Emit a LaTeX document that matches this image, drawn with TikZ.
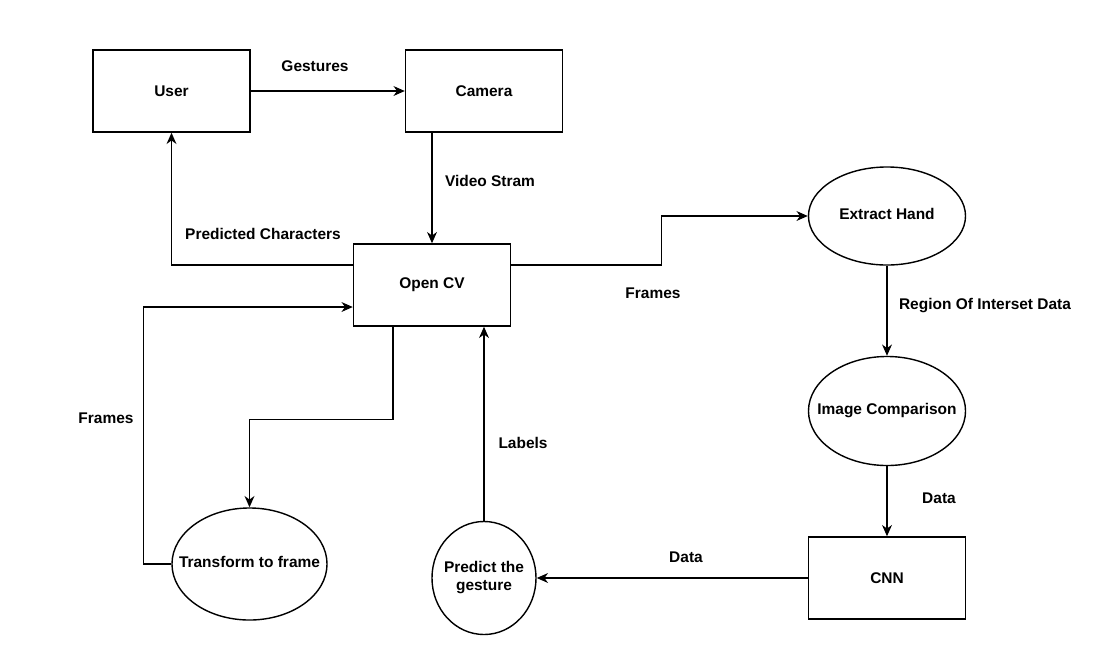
\documentclass[tikz,border=0pt]{standalone}
\usepackage{fontspec}
\setmainfont{Liberation Sans}
\usepackage{tikz}
\usetikzlibrary{
  arrows.meta,
  positioning,
  calc,
  shapes.geometric,
}

% text that does not widen the ellipse around it
\newcommand{\bubtext}[1]{\makebox[0pt]{\begin{tabular}{@{}c@{}}#1\end{tabular}}}

\begin{document}
\begin{tikzpicture}[
  x=0.025cm, y=-0.025cm,
  font=\fontsize{11}{13}\selectfont\bfseries,
  every node/.style={align=center},
  proc/.style={draw=black, line width=1pt, minimum width=3.925cm,
               minimum height=2.05cm, inner sep=0pt},
  bubble/.style={draw=black, line width=1pt, ellipse, inner sep=0pt},
  arrow/.style={-{Stealth[length=8pt, width=7pt, inset=2.5pt]}, line width=1pt},
]

\useasboundingbox (0,0) rectangle (1111,658);

% boxes
\node[proc] (user) at (171.5,91) {User};
\node[proc] (camera) at (484,91) {Camera};
\node[proc] (opencv) at (432,285) {Open CV};
\node[proc] (cnn) at (887,578) {CNN};

% ellipses
\node[bubble, minimum width=3.925cm, minimum height=2.45cm] (extract) at (887,216) {\bubtext{Extract Hand}};
\node[bubble, minimum width=3.925cm, minimum height=2.725cm] (compare) at (887,411) {\bubtext{Image Comparison}};
\node[bubble, minimum width=3.875cm, minimum height=2.8cm] (transform) at (249.5,564) {\bubtext{Transform to frame}};
\node[bubble, minimum width=2.6cm, minimum height=2.825cm] (predict) at (484,578) {\bubtext{Predict the\\gesture}};

% connectors
\draw[arrow] (user) -- (camera);
\draw[arrow] (opencv.north |- camera.south) -- (opencv.north);
\draw[arrow] ([yshift=0.5cm]opencv.west) -| (user.south);
\draw[arrow] (transform.west) -- ++(-28,0) |- ([yshift=-0.55cm]opencv.west);
\draw[arrow] ([xshift=-0.975cm]opencv.south) -- ++(0,93) -| (transform.north);
\draw[arrow] (predict.north) -- (predict.north |- opencv.south);
\draw[arrow] ([yshift=0.5cm]opencv.east) -- ++(150,0) |- (extract.west);
\draw[arrow] (extract) -- (compare);
\draw[arrow] (compare) -- (cnn);
\draw[arrow] (cnn) -- (predict);

% labels
\node (lgest) at (315,66) {Gestures};
\node (lvideo) at (490,181) {Video Stram};
\node (lpred) at (263,234) {Predicted Characters};
\node (lframesa) at (106,418) {Frames};
\node (llabels) at (523,443) {Labels};
\node (lframesb) at (653,293) {Frames};
\node (lroi) at (985,306) {Region Of Interset Data};
\node (ldataa) at (939,498) {Data};
\node (ldatab) at (686,557) {Data};

\end{tikzpicture}
\end{document}
